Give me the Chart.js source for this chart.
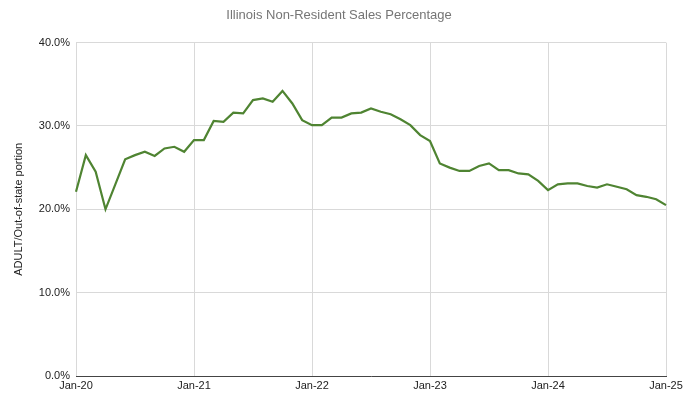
<!DOCTYPE html>
<html>
<head>
<meta charset="utf-8">
<script src="https://cdn.jsdelivr.net/npm/chart.js@4"></script>
<style>
  html, body { margin: 0; padding: 0; background: #fff; }
  #wrap { width: 689px; height: 412px; }
</style>
</head>
<body>
<div id="wrap"><canvas id="chart" width="689" height="412"></canvas></div>
<script>
// month categories, Jan-20 .. Jan-25
const years = ["20", "21", "22", "23", "24", "25"];
const months = ["Jan", "Feb", "Mar", "Apr", "May", "Jun", "Jul", "Aug", "Sep", "Oct", "Nov", "Dec"];

// out-of-state share of adult-use sales, percent
const values2020 = [22.1, 26.5, 24.5, 20.0, 23.0, 26.0, 26.5, 26.9, 26.4, 27.3, 27.5, 26.9];
const values2021 = [28.3, 28.3, 30.6, 30.5, 31.6, 31.5, 33.1, 33.3, 32.9, 34.2, 32.7, 30.7];
const values2022 = [30.1, 30.1, 31.0, 31.0, 31.5, 31.6, 32.1, 31.7, 31.4, 30.8, 30.1, 28.9];
const values2023 = [28.2, 25.5, 25.0, 24.6, 24.6, 25.2, 25.5, 24.7, 24.7, 24.3, 24.2, 23.4];
const values2024 = [22.3, 23.0, 23.1, 23.1, 22.8, 22.6, 23.0, 22.7, 22.4, 21.7, 21.5, 21.2];
const values2025 = [20.5];

const tickLabels = ["Jan-20", "Jan-21", "Jan-22", "Jan-23", "Jan-24", "Jan-25"];
const yTicks = [0, 10, 20, 30, 40];

const labels = [];
years.forEach((yr, i) => {
  const n = i === years.length - 1 ? 1 : 12;
  for (let m = 0; m < n; m++) labels.push(months[m] + "-" + yr);
});
const values = [].concat(values2020, values2021, values2022, values2023, values2024, values2025);

const font = "'Liberation Sans', Arial, sans-serif";

const ctx = document.getElementById("chart").getContext("2d");
new Chart(ctx, {
  type: "line",
  data: {
    labels: labels,
    datasets: [
      {
        label: "Out-of-state portion",
        data: values,
        borderColor: "#4f8432",
        borderWidth: 2.2,
        pointRadius: 0,
        fill: false,
        tension: 0,
      },
    ],
  },
  options: {
    responsive: false,
    animation: false,
    layout: {
      padding: { left: 12, right: 23, top: 0, bottom: 0 },
    },
    plugins: {
      legend: { display: false },
      tooltip: { enabled: false },
      title: {
        display: true,
        text: "Illinois Non-Resident Sales Percentage",
        color: "#757575",
        font: { family: "'Liberation Sans Narrow', " + font, size: 13, weight: "normal" },
        padding: { top: 8, bottom: 19 },
      },
    },
    scales: {
      x: {
        offset: false,
        grid: {
          color: "#d9d9d9",
          lineWidth: 1,
          drawTicks: false,
        },
        border: { color: "#444", width: 1 },
        ticks: {
          autoSkip: false,
          maxRotation: 0,
          color: "#222",
          padding: 3,
          font: { family: font, size: 11 },
          callback: function (v, i) {
            const lab = this.getLabelForValue(v);
            return tickLabels.includes(lab) ? lab : null;
          },
        },
        afterFit: (scale) => { scale.height = 36; },
      },
      y: {
        min: 0,
        max: 40,
        grid: {
          color: "#d9d9d9",
          drawTicks: false,
        },
        border: { display: false },
        afterBuildTicks: (scale) => {
          scale.ticks = yTicks.map((v) => ({ value: v }));
        },
        ticks: {
          color: "#222",
          padding: 6,
          font: { family: font, size: 11 },
          callback: (v) => v.toFixed(1) + "%",
        },
        title: {
          display: true,
          text: "ADULT/Out-of-state portion",
          color: "#222",
          font: { family: font, size: 11 },
          padding: { top: 0, bottom: 4 },
        },
        afterFit: (scale) => { scale.width = 64; },
      },
    },
  },
});
</script>
</body>
</html>
